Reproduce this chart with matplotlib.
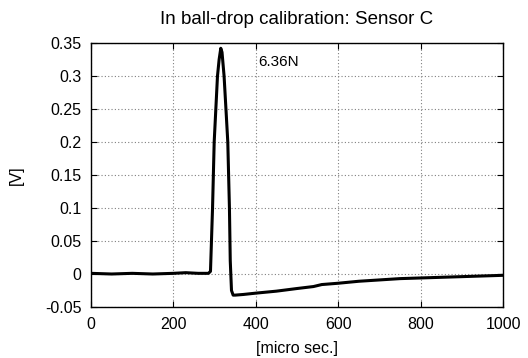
import numpy as np
import matplotlib
matplotlib.use("Agg")
import matplotlib.pyplot as plt

# Values (time in micro sec., signal in V)
t_us = [0, 50, 100, 150, 200, 230, 260, 285, 290, 295, 299, 303, 307, 311,
        315, 318, 323, 328, 332, 336, 338, 341, 345, 350, 370, 400, 450,
        500, 540, 560, 600, 650, 700, 750, 800, 850, 900, 950, 1000]
volts = [0.001, 0.000, 0.001, 0.000, 0.001, 0.002, 0.001, 0.001, 0.004,
         0.100, 0.200, 0.250, 0.300, 0.325, 0.342, 0.336, 0.300, 0.245,
         0.200, 0.100, 0.020, -0.025, -0.032, -0.032, -0.031, -0.029,
         -0.026, -0.022, -0.019, -0.016, -0.014, -0.011, -0.009, -0.007,
         -0.006, -0.005, -0.004, -0.003, -0.002]

x_ticks = [0, 200, 400, 600, 800, 1000]
y_ticks = [-0.05, 0, 0.05, 0.1, 0.15, 0.2, 0.25, 0.3, 0.35]
y_labels = ["-0.05", "0", "0.05", "0.1", "0.15", "0.2", "0.25", "0.3", "0.35"]

plt.rcParams['font.family'] = ['Liberation Sans', 'DejaVu Sans']

fig = plt.figure(figsize=(5.28, 3.58), dpi=100)
ax = fig.add_axes([91/528, 1 - 307/358, 412/528, 264/358])

ax.plot(t_us, volts, color="black", lw=2.2, solid_joinstyle="round")

ax.set_xlim(0, 1000)
ax.set_ylim(-0.05, 0.35)
ax.set_xticks(x_ticks)
ax.set_yticks(y_ticks)
ax.set_yticklabels(y_labels)
ax.grid(True, color="gray", linestyle=(0, (1, 2)), linewidth=0.8)
ax.tick_params(direction="in", length=4.5, width=0.8, top=True, right=True,
               labelsize=11.5)
ax.tick_params(axis="x", pad=7)
ax.tick_params(axis="y", pad=7)
for s in ax.spines.values():
    s.set_linewidth(1.0)

ax.text(405, 0.321, "6.36N", fontsize=11, va="center", ha="left")
ax.set_title("In ball-drop calibration: Sensor C", fontsize=13.5, pad=14)
ax.set_xlabel("[micro sec.]", fontsize=11.5, labelpad=7)
ax.set_ylabel("[V]", fontsize=11.5, labelpad=15)

fig.savefig("out.png", dpi=100)
